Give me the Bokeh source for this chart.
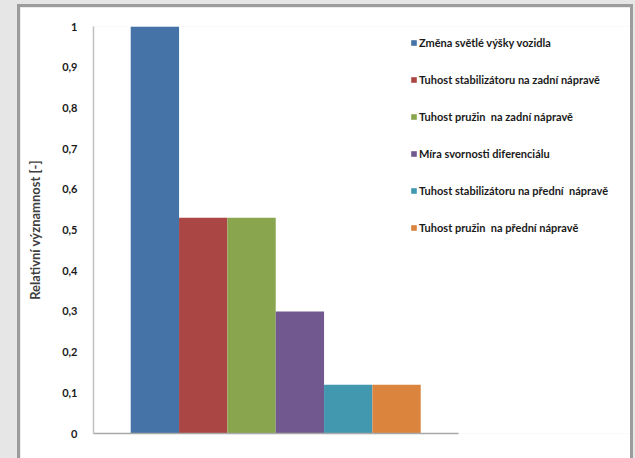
from bokeh.plotting import figure
from bokeh.models import ColumnDataSource, FixedTicker, CustomJSTickFormatter, Legend, LegendItem, Range1d
from bokeh.layouts import column
from bokeh.embed import file_html
from bokeh.resources import INLINE

names = [
    "Změna světlé výšky vozidla",
    "Tuhost stabilizátoru na zadní nápravě",
    "Tuhost pružin  na zadní nápravě",
    "Míra svornosti diferenciálu",
    "Tuhost stabilizátoru na přední  nápravě",
    "Tuhost pružin  na přední nápravě",
]
values = [1.0, 0.53, 0.53, 0.30, 0.12, 0.12]
colors = ["#4572A7", "#AA4643", "#89A54E", "#71588F", "#4198AF", "#DB843D"]
positions = [0.5, 1.5, 2.5, 3.5, 4.5, 5.5]
y_ticks = [0, 0.1, 0.2, 0.3, 0.4, 0.5, 0.6, 0.7, 0.8, 0.9, 1.0]
y_title = "Relativní významnost [-]"

FONT = "Lato"

p = figure(width=610, height=452, output_backend="svg", toolbar_location=None,
           x_range=Range1d(-0.77, 10.34), y_range=Range1d(0, 1),
           min_border_left=73, min_border_right=0, min_border_top=19, min_border_bottom=25)
p.outline_line_color = None
p.xgrid.visible = False
p.ygrid.visible = False
p.background_fill_color = "white"
p.border_fill_color = "white"

src = ColumnDataSource(dict(x=positions, top=values, color=colors, name=names))
r = p.vbar(x="x", top="top", width=1.0, bottom=0, color="color", line_color=None, source=src)

# axes
p.xaxis.ticker = FixedTicker(ticks=[])
p.xaxis.bounds = (-0.77, 6.78)
p.xaxis.axis_line_color = "#a8a8a8"
p.xaxis.axis_line_width = 1.5
p.xaxis.major_tick_line_color = None
p.xaxis.minor_tick_line_color = None

p.yaxis.ticker = FixedTicker(ticks=y_ticks)
p.yaxis.formatter = CustomJSTickFormatter(code="""
const s = (Math.round(tick*10)/10).toString();
return s.replace('.', ',');
""")
p.yaxis.axis_line_color = "#c0c0c0"
p.yaxis.axis_line_width = 1.5
p.yaxis.major_tick_line_color = None
p.yaxis.minor_tick_line_color = None
p.yaxis.major_label_standoff = 10
p.yaxis.major_label_text_font = FONT
p.yaxis.major_label_text_font_style = "bold"
p.yaxis.major_label_text_font_size = "11px"
p.yaxis.major_label_text_color = "#1a1a1a"
p.yaxis.axis_label = y_title
p.yaxis.axis_label_text_font = FONT
p.yaxis.axis_label_text_font_style = "bold"
p.yaxis.axis_label_text_font_size = "13px"
p.yaxis.axis_label_text_color = "#404040"
p.yaxis.axis_label_standoff = 16

items = [LegendItem(label=names[i], renderers=[r], index=i) for i in range(len(names))]
legend = Legend(items=items, location=(317, 196))
legend.border_line_color = None
legend.background_fill_alpha = 0
legend.padding = 0
legend.margin = 0
legend.glyph_width = 7
legend.glyph_height = 7
legend.label_height = 20
legend.spacing = 17
legend.label_standoff = 2
legend.label_text_font = FONT
legend.label_text_font_style = "bold"
legend.label_text_font_size = "11px"
legend.label_text_color = "#1a1a1a"
p.add_layout(legend, "center")

p.styles = {"outline": "3px solid #9c9c9c"}

layout = column(p, width=635, height=458,
                styles={"background-color": "#e6e6e6", "padding": "7px 5px 0px 20px", "box-sizing": "border-box"})

open("out.html", "w").write(file_html(layout, INLINE))
